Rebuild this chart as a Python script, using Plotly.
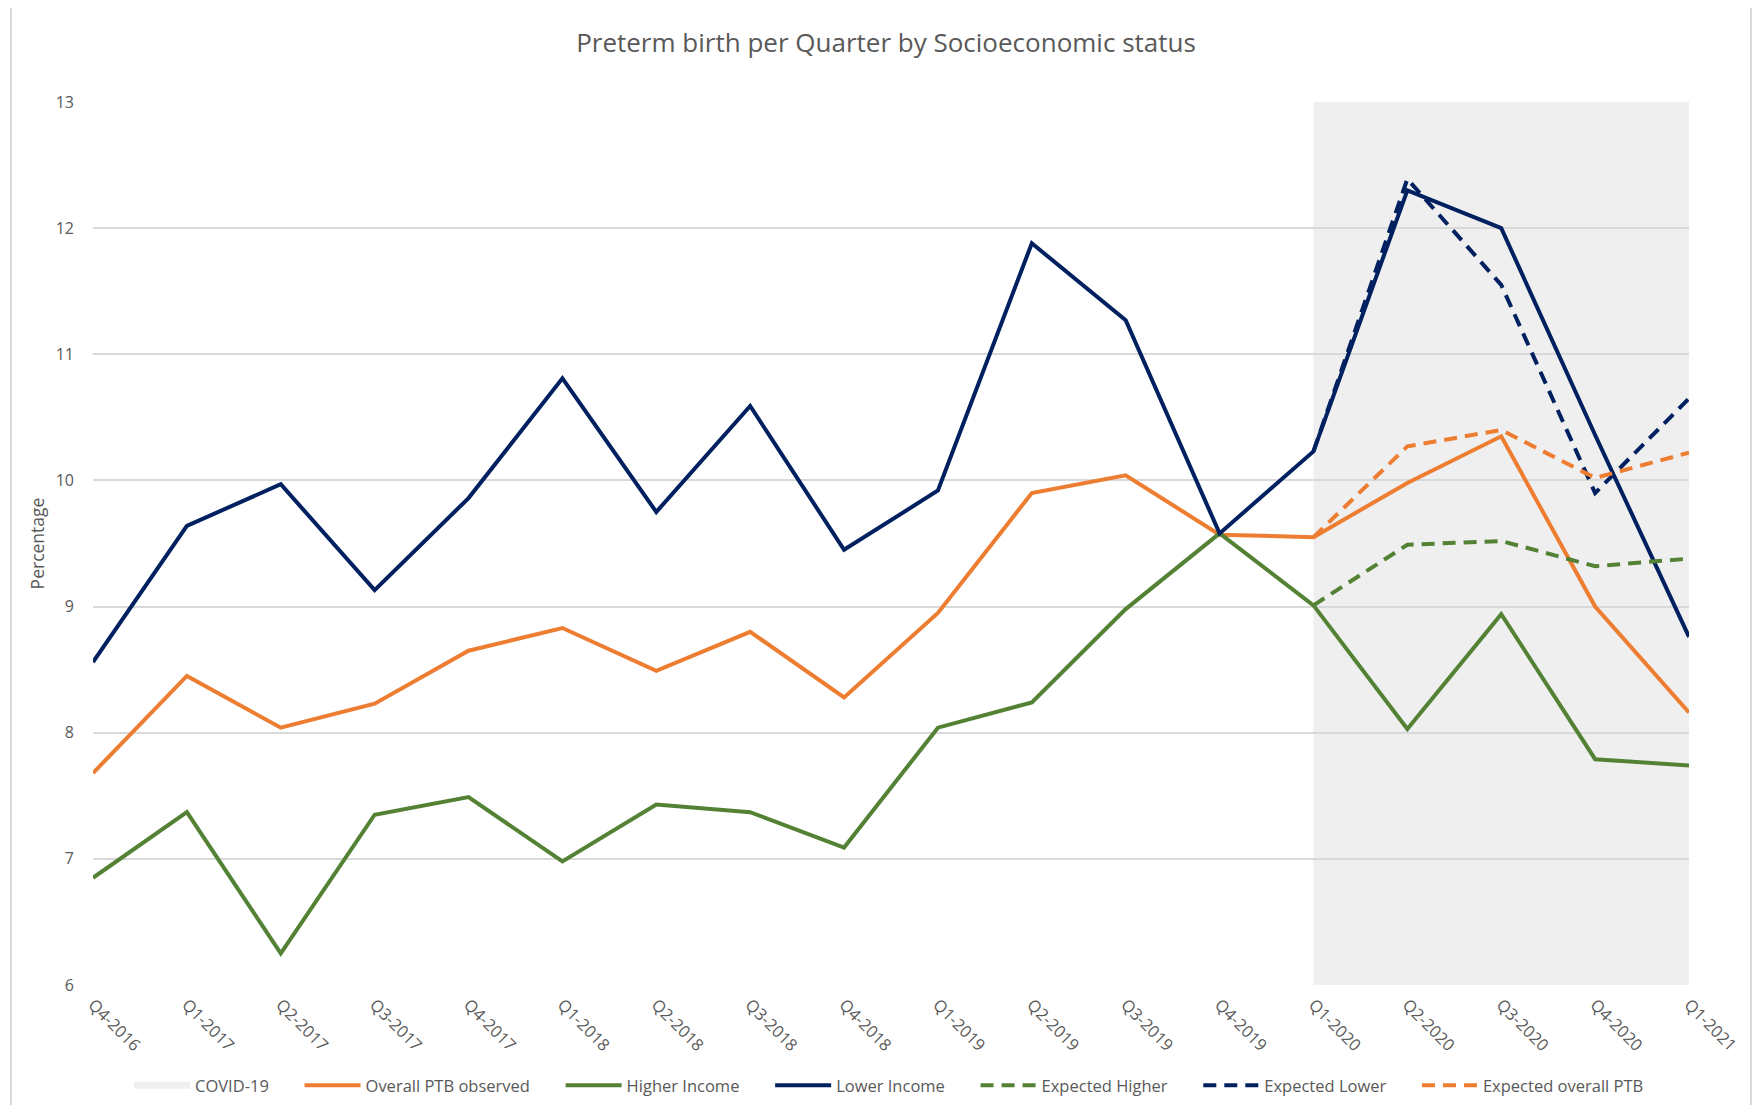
import plotly.graph_objects as go

quarters = ["Q4-2016", "Q1-2017", "Q2-2017", "Q3-2017", "Q4-2017", "Q1-2018", "Q2-2018",
            "Q3-2018", "Q4-2018", "Q1-2019", "Q2-2019", "Q3-2019", "Q4-2019", "Q1-2020",
            "Q2-2020", "Q3-2020", "Q4-2020", "Q1-2021"]

overall_ptb = [7.68, 8.45, 8.04, 8.23, 8.65, 8.83, 8.49, 8.80, 8.28, 8.95, 9.90, 10.04,
               9.57, 9.55, 9.98, 10.35, 9.00, 8.16]
higher_income = [6.85, 7.37, 6.25, 7.35, 7.49, 6.98, 7.43, 7.37, 7.09, 8.04, 8.24, 8.98,
                 9.58, 9.01, 8.03, 8.94, 7.79, 7.74]
lower_income = [8.56, 9.64, 9.97, 9.13, 9.86, 10.81, 9.75, 10.59, 9.45, 9.92, 11.88, 11.27,
                9.58, 10.23, 12.30, 12.00, 10.36, 8.76]

expected_quarters = ["Q1-2020", "Q2-2020", "Q3-2020", "Q4-2020", "Q1-2021"]
expected_higher = [9.01, 9.49, 9.52, 9.32, 9.38]
expected_lower = [10.23, 12.39, 11.55, 9.90, 10.65]
expected_overall = [9.55, 10.27, 10.40, 10.02, 10.22]

covid_start, covid_end = "Q1-2020", "Q1-2021"

NAVY = "#002060"
ORANGE = "#ED7D31"
GREEN = "#548235"
SHADE = "#EFEFEF"
GRID = "#D9D9D9"
TEXT = "#595959"
FONT = "Open Sans"
LW = 4

NBSP = "\u00a0"
def pad(s, n=6):
    return s + NBSP * n

fig = go.Figure()

fig.add_trace(go.Scatter(x=[quarters[0]], y=[None], mode="lines", name=pad("COVID-19"),
                         line=dict(color=SHADE, width=7), hoverinfo="skip"))
fig.add_trace(go.Scatter(x=quarters, y=overall_ptb, mode="lines", name=pad("Overall PTB observed"),
                         line=dict(color=ORANGE, width=LW)))
fig.add_trace(go.Scatter(x=quarters, y=higher_income, mode="lines", name=pad("Higher Income"),
                         line=dict(color=GREEN, width=LW)))
fig.add_trace(go.Scatter(x=quarters, y=lower_income, mode="lines", name=pad("Lower Income"),
                         line=dict(color=NAVY, width=LW)))
fig.add_trace(go.Scatter(x=expected_quarters, y=expected_higher, mode="lines", name=pad("Expected Higher"),
                         line=dict(color=GREEN, width=LW, dash="13px,8px")))
fig.add_trace(go.Scatter(x=expected_quarters, y=expected_lower, mode="lines", name=pad("Expected Lower"),
                         line=dict(color=NAVY, width=LW, dash="13px,8px")))
fig.add_trace(go.Scatter(x=expected_quarters, y=expected_overall, mode="lines", name="Expected overall PTB",
                         line=dict(color=ORANGE, width=LW, dash="13px,8px")))

fig.add_shape(type="rect", xref="x", yref="y", x0=quarters.index(covid_start), x1=quarters.index(covid_end),
              y0=6, y1=13, fillcolor=SHADE, line=dict(width=0), layer="below")

# figure placed at page offset 8px (body margin on every side); sized so the page does not overflow
OFF = 8
W, H = 1760 - 2 * OFF, 1113 - 2 * OFF
# plot area in page px: x 93..1689, y 102..985.5
L, T = 93 - OFF, 102 - OFF
R = W - (1689 - OFF)
B = H - (985.5 - OFF)
pw, ph = W - L - R, H - T - B

def px_x(p):
    return (p - OFF - L) / pw

def px_y(p):
    return (H - B - (p - OFF)) / ph

# chart area border
fig.add_shape(type="rect", xref="paper", yref="paper", x0=px_x(11), x1=px_x(1751), y0=px_y(1125), y1=px_y(7),
              line=dict(color=GRID, width=2), fillcolor="rgba(0,0,0,0)", layer="above")

fig.update_layout(
    width=W, height=H,
    paper_bgcolor="white", plot_bgcolor="white",
    margin=dict(l=L, r=R, t=T, b=B, autoexpand=False),
    font=dict(family=FONT, color=TEXT, size=16),
    title=dict(text="Preterm birth per Quarter by Socioeconomic status", x=(886 - OFF) / W, xref="container",
               y=1 - (43 - OFF) / H, yref="container", xanchor="center", yanchor="middle",
               font=dict(family=FONT, size=26, color=TEXT)),
    showlegend=True,
    legend=dict(orientation="h", x=px_x(889), xanchor="center", y=px_y(1086), yanchor="middle",
                font=dict(family=FONT, size=16.5, color=TEXT), itemwidth=56,
                bgcolor="rgba(0,0,0,0)"),
    xaxis=dict(type="category", categoryorder="array", categoryarray=quarters,
               range=[0, len(quarters) - 1], tickangle=45, showgrid=False, zeroline=False,
               showline=False, ticks="", ticklabelstandoff=6, automargin=False,
               tickfont=dict(family=FONT, size=16.5, color=TEXT)),
    yaxis=dict(range=[6, 13], dtick=1, tick0=6, showgrid=True, gridcolor=GRID, gridwidth=1.5,
               zeroline=False, showline=False, ticks="", ticklabelstandoff=18, automargin=False,
               tickfont=dict(family=FONT, size=16, color=TEXT),
               title=dict(text="Percentage", font=dict(family=FONT, size=17.5, color=TEXT), standoff=6)),
)

fig.write_html("out.html")
